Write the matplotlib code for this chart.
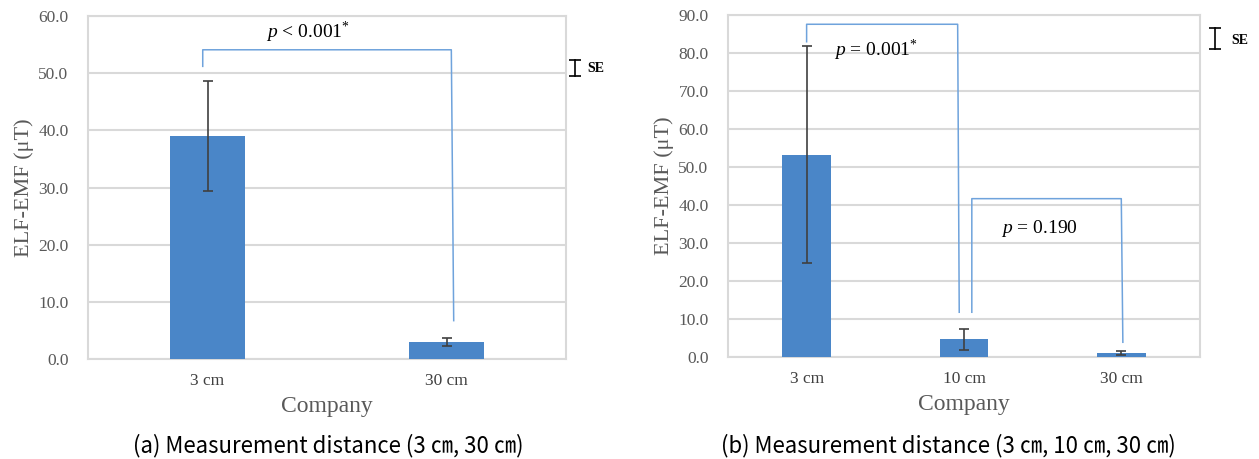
import matplotlib
matplotlib.use("Agg")
import matplotlib.pyplot as plt

plt.rcParams['font.family'] = ['Liberation Serif']
plt.rcParams['mathtext.fontset'] = 'custom'
plt.rcParams['mathtext.rm'] = 'Liberation Serif'
plt.rcParams['mathtext.it'] = 'Liberation Serif:italic'

# data
cats_a = ["3 cm", "30 cm"]
mean_a = [39.0, 3.0]
se_a = [9.6, 0.7]

cats_b = ["3 cm", "10 cm", "30 cm"]
mean_b = [53.3, 4.7, 1.1]
se_b = [28.6, 2.8, 0.6]

bar_col = "#4a86c8"
line_col = "#6fa3dc"
grid_col = "#d9d9d9"
tick_col = "#595959"

fig = plt.figure(figsize=(12.59, 4.59), dpi=100)
ax1 = fig.add_axes([0.0699, 0.218, 0.3797, 0.747])
ax2 = fig.add_axes([0.5782, 0.222, 0.3749, 0.745])


def style(ax, cats, means, ses, ymax):
    x = list(range(len(cats)))
    ax.bar(x, means, width=0.31, color=bar_col, zorder=3)
    ax.errorbar(x, means, yerr=ses, fmt="none", ecolor="#404040",
                elinewidth=1.2, capsize=3.5, capthick=1.2, zorder=4)
    ax.set_xlim(-0.5, len(cats) - 0.5)
    ax.set_ylim(0, ymax)
    ax.set_yticks(range(0, ymax + 1, 10))
    ax.set_yticklabels(["%.1f" % v for v in range(0, ymax + 1, 10)])
    ax.set_xticks(x)
    ax.set_xticklabels(cats)
    ax.yaxis.grid(True, color=grid_col, linewidth=1.5, zorder=0)
    ax.set_axisbelow(True)
    for s in ax.spines.values():
        s.set_color(grid_col)
        s.set_linewidth(1.5)
    ax.tick_params(axis="both", length=0, labelsize=12.5)
    ax.tick_params(axis="y", colors=tick_col, pad=14)
    ax.tick_params(axis="x", colors="#404040", pad=10)
    ax.set_xlabel("Company", size=17, color=tick_col, labelpad=5)
    ax.set_ylabel("ELF-EMF (\u03bcT)", size=16, color=tick_col, labelpad=3)


style(ax1, cats_a, mean_a, se_a, 60)
style(ax2, cats_b, mean_b, se_b, 90)

# significance brackets
ax1.plot([-0.02, -0.02, 1.02, 1.03], [51.2, 54.1, 54.1, 6.7],
         color=line_col, lw=1.1, clip_on=False, zorder=5)
ax1.text(0.42, 57.2, r"$p$ < 0.001$^{*}$", size=14, ha="center", va="center")

ax2.plot([0.0, 0.0, 0.96, 0.97], [83.0, 87.6, 87.6, 11.8],
         color=line_col, lw=1.1, clip_on=False, zorder=5)
ax2.plot([1.05, 1.05, 2.0, 2.01], [11.8, 41.7, 41.7, 3.9],
         color=line_col, lw=1.1, clip_on=False, zorder=5)
ax2.text(0.44, 80.8, r"$p$ = 0.001$^{*}$", size=14, ha="center", va="center")
ax2.text(1.48, 33.9, r"$p$ = 0.190", size=14, ha="center", va="center")

# SE legend marks
for ax, xs, y0, y1, xt, yt in [(ax1, 1.019, 0.825, 0.872, 1.044, 0.848),
                               (ax2, 1.032, 0.90, 0.962, 1.066, 0.927)]:
    ax.plot([xs, xs], [y0, y1], color="black", lw=1.2,
            transform=ax.transAxes, clip_on=False)
    ax.plot([xs, xs], [y0, y1], color="black", lw=0, marker="_", ms=8,
            mew=1.2, transform=ax.transAxes, clip_on=False)
    ax.text(xt, yt, "SE", size=10, weight="bold", transform=ax.transAxes,
            ha="left", va="center")

# captions
cap_font = ["Noto Sans CJK KR", "DejaVu Sans"]
fig.text(328 / 1259, 1 - 446 / 459, "(a) Measurement distance (3 \u339d, 30 \u339d)",
         size=16, family=cap_font, ha="center", va="center")
fig.text(948 / 1259, 1 - 446 / 459,
         "(b) Measurement distance (3 \u339d, 10 \u339d, 30 \u339d)",
         size=16, family=cap_font, ha="center", va="center")

fig.savefig("out.png", dpi=100)
